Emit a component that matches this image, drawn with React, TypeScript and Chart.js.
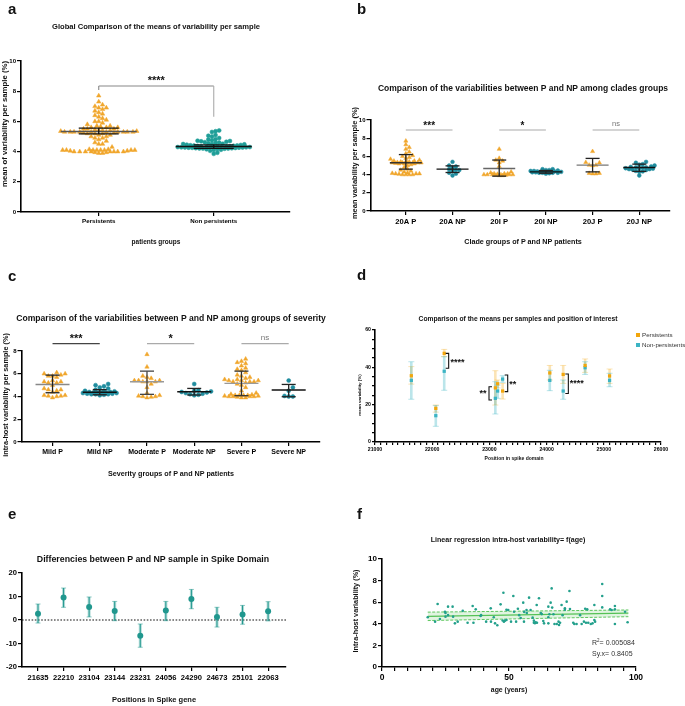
import React, { useEffect, useRef } from "react";
import { Chart, registerables } from "chart.js";
Chart.register(...registerables);

const W = 685;
const H = 706;
const FONT = "'Liberation Sans', Arial, Helvetica, sans-serif";
const ORANGE = "#f0a62c";
const TEAL_A = "#1f9e98";
const TEAL_B = "#1f8c9e";
const TEAL_D = "#3cb4c4";
const ORANGE_D = "#f2a60c";
const TEAL_E = "#20978e";
const TEAL_F = "#23a08c";
const GREEN_F = "#4cbf4c";

// ---------------- Panel a ----------------
const aCategories = ["Persistents", "Non persistents"];
const aPersistents = [
  4.0, 4.1, 4.1, 4.1, 4.0, 3.9, 4.1, 3.95, 4.0, 4.0, 4.05, 4.1, 4.1, 4.15, 4.15, 3.9, 4.0, 4.1, 4.0, 4.0, 3.95, 4.05, 4.0, 4.1,
  4.3, 4.5, 4.5, 4.6, 4.7, 4.8, 4.9, 4.9, 5.0, 5.0, 5.1, 5.1, 5.2, 5.2,
  5.25, 5.3, 5.3, 5.3, 5.3, 5.3, 5.3, 5.35, 5.4, 5.4, 5.4, 5.45, 5.5, 5.5, 5.5, 5.6, 5.6, 5.6, 5.65, 5.7, 5.7, 5.3, 5.2, 5.3, 5.35, 5.25, 5.3, 5.3,
  5.8, 5.9, 6.0, 6.0, 6.1, 6.2, 6.3, 6.4, 6.5, 6.6, 6.7, 6.8, 6.9, 6.9, 7.0, 7.1, 7.3, 7.7,
];
const aNonPersistents = [
  4.22, 4.25, 4.28, 4.3, 4.32, 4.27, 4.24, 4.3, 4.35, 4.33, 4.36, 4.29, 4.26, 4.23, 4.27, 4.2, 4.18, 4.21, 4.19, 4.31, 4.34, 4.28,
  4.38, 4.37, 4.4, 4.42, 4.41, 4.44, 4.46, 4.48, 4.5, 4.52, 4.5, 4.55, 4.58, 4.6, 4.62, 4.65, 4.68, 4.7, 4.72, 4.75, 4.8, 4.82,
  4.9, 5.0, 5.05, 5.1, 5.3, 5.35, 5.4, 4.1, 4.12, 4.15, 4.05, 3.92, 3.85, 4.2, 4.3, 4.26,
];
const aMeans = [5.33, 4.34];
const aErrLow = [5.17, 4.22];
const aErrHigh = [5.55, 4.45];
const aYTicks = [0, 2, 4, 6, 8, 10];
const aSignif = "****";

// ---------------- Panel b ----------------
const bCategories = ["20A P", "20A NP", "20I P", "20I NP", "20J P", "20J NP"];
const b20AP = [
  4.0, 4.0, 4.05, 4.1, 4.1, 4.0, 4.1, 4.15, 4.2, 4.0, 4.3, 4.4, 4.5, 4.6, 4.8, 5.0, 5.1, 5.2, 5.2, 5.3, 5.3, 5.3, 5.3, 5.3,
  5.35, 5.4, 5.4, 5.4, 5.5, 5.5, 5.6, 5.7, 5.8, 5.9, 6.0, 6.1, 6.3, 6.5, 6.8, 7.0, 7.3, 7.7, 5.25, 5.3, 5.2,
];
const b20ANP = [3.9, 4.1, 4.2, 4.4, 4.5, 4.5, 4.6, 4.8, 4.9, 5.0, 5.4];
const b20IP = [3.9, 3.9, 3.95, 4.0, 4.0, 4.0, 4.0, 4.05, 4.1, 4.1, 4.1, 4.0, 4.2, 4.0, 4.3, 4.9, 5.3, 5.5, 5.6, 5.8, 6.8, 3.95];
const b20INP = [4.1, 4.15, 4.2, 4.2, 4.2, 4.25, 4.25, 4.3, 4.3, 4.3, 4.3, 4.3, 4.35, 4.35, 4.4, 4.4, 4.45, 4.5, 4.5, 4.6, 4.6, 4.2];
const b20JP = [4.1, 4.1, 4.15, 4.15, 5.0, 5.05, 5.05, 5.35, 5.3, 6.55];
const b20JNP = [3.9, 4.3, 4.35, 4.4, 4.5, 4.55, 4.6, 4.6, 4.7, 4.7, 4.75, 4.8, 4.8, 4.85, 4.9, 5.0, 5.1, 5.15, 5.3, 5.4, 4.65];
const bMeans = [5.3, 4.6, 4.67, 4.3, 5.04, 4.78];
const bSdLow = [4.6, 4.23, 3.83, 4.15, 4.3, 4.35];
const bSdHigh = [6.2, 4.96, 5.6, 4.45, 5.78, 5.15];
const bSignif = ["***", "*", "ns"];
const bYTicks = [0, 2, 4, 6, 8, 10];

// ---------------- Panel c ----------------
const cCategories = ["Mild P", "Mild NP", "Moderate P", "Moderate NP", "Severe P", "Severe NP"];
const cMildP = [3.9, 4.0, 4.05, 4.05, 4.1, 4.1, 4.4, 4.5, 4.6, 4.6, 4.7, 5.0, 5.2, 5.2, 5.3, 5.3, 5.4, 5.7, 5.8, 5.8, 5.9, 6.0, 6.0, 6.1];
const cMildNP = [4.1, 4.15, 4.2, 4.2, 4.2, 4.25, 4.25, 4.3, 4.3, 4.3, 4.3, 4.35, 4.35, 4.4, 4.4, 4.4, 4.45, 4.5, 4.5, 4.6, 4.7, 4.8, 4.9, 5.0, 5.1];
const cModerateP = [3.9, 3.95, 4.0, 4.0, 4.05, 4.1, 4.3, 4.8, 5.1, 5.3, 5.3, 5.3, 5.4, 5.4, 5.4, 5.6, 5.7, 5.8, 6.6, 7.7];
const cModerateNP = [4.1, 4.15, 4.2, 4.25, 4.3, 4.35, 4.4, 4.45, 4.5, 4.55, 5.1];
const cSevereP = [
  3.9, 3.9, 3.95, 4.0, 4.0, 4.0, 4.0, 4.05, 4.05, 4.1, 4.1, 4.1, 4.1, 4.15, 4.2, 4.3, 4.5, 4.8, 5.0, 5.1, 5.2, 5.3, 5.3, 5.3,
  5.4, 5.4, 5.4, 5.5, 5.5, 5.6, 5.7, 5.8, 5.9, 6.1, 6.3, 6.4, 6.7, 6.9, 7.0, 7.1, 7.3, 6.5,
];
const cSevereNP = [4.0, 4.0, 4.05, 4.5, 4.8, 5.4];
const cMeans = [5.06, 4.37, 5.3, 4.42, 5.15, 4.57];
const cSdLow = [4.33, 4.15, 4.19, 4.13, 4.07, 3.98];
const cSdHigh = [5.88, 4.6, 6.23, 4.71, 6.23, 5.06];
const cSignif = ["***", "*", "ns"];
const cYTicks = [0, 2, 4, 6, 8];

// ---------------- Panel d ----------------
const dPositions = [21635, 22063, 22210, 23104, 23144, 23231, 24056, 24290, 24673, 25101];
const dPersMean = [35.5, 18, 47.5, 29, 31.2, 27.3, 37, 36.2, 41, 35.4];
const dPersLow = [31, 16, 45.7, 19.8, 29, 23, 33.2, 31.4, 37.3, 31.4];
const dPersHigh = [40.4, 19.8, 49.6, 38.2, 33.2, 31.4, 41, 41, 44.5, 39.1];
const dNonMean = [33, 14.1, 37.9, 23.4, 27.3, 33.7, 33, 27.3, 39.8, 33];
const dNonLow = [22.9, 8.4, 27.7, 15, 23.4, 32, 27.5, 22.9, 36.2, 29.6];
const dNonHigh = [43, 19.5, 45.7, 32.3, 30.5, 35.5, 38.4, 33.2, 43, 36.8];
const dLegend = ["Persistents", "Non-persistents"];

// ---------------- Panel e ----------------
const ePositions = ["21635", "22210", "23104", "23144", "23231", "24056", "24290", "24673", "25101", "22063"];
const eDiff = [2.7, 9.6, 5.5, 3.8, -6.7, 4.0, 8.9, 1.3, 2.3, 3.7];
const eLow = [-1.3, 5.4, 1.3, -0.3, -11.6, -0.3, 4.8, -3.0, -1.8, -0.4];
const eHigh = [6.8, 13.6, 9.8, 7.9, -1.7, 7.9, 13.0, 5.4, 6.2, 7.8];
const eYTicks = [-20, -10, 0, 10, 20];

// ---------------- Panel f ----------------
const fAge = [
  18, 20.9, 21.9, 22.8, 24.8, 25, 26, 27.8, 28, 28.7, 29.8, 31.8, 33.7, 35.7, 36, 36.9, 38.8, 39, 41, 42.8, 42.9, 44.5, 45.4,
  46.7, 47.8, 48.4, 49, 49.7, 50.8, 51.7, 52, 52.8, 54, 54.6, 55.6, 55.9, 56.9, 57.9, 58.5, 59.3, 59.8, 59.8, 60.9, 61.8, 62.9,
  63.5, 63.8, 65.5, 65.5, 65.9, 66.4, 66.8, 67.5, 67.9, 68.8, 69.7, 70.1, 70.7, 71.1, 72, 72.7, 73.8, 74, 75.3, 75.7, 76.6, 78,
  78.6, 79.5, 80.3, 80.8, 81.2, 82.2, 82.9, 83.6, 83.6, 83.9, 86.7, 86.7, 86.7, 89.8, 90.4, 91.7, 91.7, 91.7, 95.7, 96.7,
  60.2, 60.5, 61, 69.5, 65.5, 56, 57, 53.5, 48, 47.5, 49, 44, 26, 25, 62.5, 72, 67, 80,
];
const fVar = [
  4.6, 4.2, 5.83, 4.44, 5.12, 4.66, 5.59, 5.59, 4.66, 4.04, 4.2, 5.2, 4.1, 5.65, 4.1, 5.34, 4.72, 4.8, 4.2, 5.43, 4.2, 4.04, 3.86,
  5.8, 6.88, 4.29, 4.35, 5.28, 4.2, 6.57, 5.12, 4.2, 4.8, 4.54, 5.96, 4.2, 5.28, 6.42, 5.28, 4.57, 4.29, 4.1, 5.74, 6.36, 4.9,
  4.26, 4.04, 5.59, 4.04, 4.88, 5.96, 7.28, 4.88, 3.98, 3.98, 3.89, 4.1, 5.74, 4.8, 5.43, 6.05, 7.04, 5.37, 4.1, 3.98, 3.98, 4.8,
  3.98, 4.2, 4.1, 5.34, 4.1, 3.98, 4.04, 5.74, 4.35, 4.2, 7.69, 6.57, 5.52, 5.34, 5.28, 5.65, 5.34, 3.98, 5.12, 4.14,
  4.05, 4.15, 4.1, 4.2, 4.6, 5.1, 5.0, 5.4, 4.2, 4.3, 5.3, 4.6, 4.8, 5.0, 5.0, 5.3, 5.5, 5.4,
];
const fFitAge = [18, 97];
const fFitVar = [4.68, 4.98];
const fUpperVar = [5.08, 5.28];
const fLowerVar = [4.3, 4.66];
const fStats = ["0.005084", "0.8405"];

// ---------------- layout ----------------
type Box = { left: number; top: number; right: number; bottom: number };
const A_BOX: Box = { left: 21, top: 61, right: 290, bottom: 212 };
const B_BOX: Box = { left: 370.5, top: 120, right: 670, bottom: 211 };
const C_BOX: Box = { left: 21.5, top: 351, right: 320, bottom: 442 };
const D_BOX: Box = { left: 375, top: 330, right: 661, bottom: 442 };
const E_BOX: Box = { left: 22, top: 573, right: 286, bottom: 667 };
const F_BOX: Box = { left: 382, top: 559, right: 636, bottom: 667 };

function layoutFor(box: Box, yFit: number, xFit: number) {
  return {
    padding: { left: box.left - yFit, top: box.top, right: W - box.right, bottom: H - box.bottom - xFit },
  };
}

function axis(o: {
  min: number;
  max: number;
  tickValues: number[];
  label: (v: number) => string;
  size: number;
  fit: number;
  horizontal: boolean;
  pad?: number;
  tickLen?: number;
  weight?: string;
}) {
  return {
    type: "linear",
    min: o.min,
    max: o.max,
    border: { display: true, color: "#000", width: 1.6 },
    grid: { display: true, drawOnChartArea: false, drawTicks: true, tickLength: o.tickLen ?? 4, color: "#000", lineWidth: 1.2 },
    ticks: {
      autoSkip: false,
      maxRotation: 0,
      minRotation: 0,
      color: "#000",
      padding: o.pad ?? 2,
      font: { family: FONT, size: o.size, weight: o.weight ?? "bold" },
      callback: (v: any) => o.label(Number(v)),
    },
    afterBuildTicks: (s: any) => {
      s.ticks = o.tickValues.map((v) => ({ value: v }));
    },
    afterFit: (s: any) => {
      if (o.horizontal) s.height = o.fit;
      else s.width = o.fit;
    },
  };
}

function range(a: number, b: number, step: number) {
  const out: number[] = [];
  for (let v = a; v <= b + 1e-9; v += step) out.push(Math.round(v * 1000) / 1000);
  return out;
}

// deterministic beeswarm: horizontal offsets computed from the values only,
// limited to a maximum half-width (points overlap when the row is full)
function swarm(values: number[], center: number, pxPerX: number, pxPerY: number, diam: number, maxHalf: number) {
  const order = values.map((v, i) => ({ v, i })).sort((p, q) => p.v - q.v);
  const placed: { x: number; y: number }[] = [];
  const out: { x: number; y: number }[] = new Array(values.length);
  const step = diam * 0.5;
  const nMax = Math.floor(maxHalf / step) * 2;
  for (const { v, i } of order) {
    const y = v * pxPerY;
    let best = 0;
    let bestScore = -1;
    for (let n = 0; n <= nMax; n++) {
      const cand = n === 0 ? 0 : (n % 2 === 1 ? 1 : -1) * Math.ceil(n / 2) * step;
      let minD = Infinity;
      for (const p of placed) {
        const d = Math.hypot(p.x - cand, p.y - y);
        if (d < minD) minD = d;
      }
      if (minD >= diam) {
        best = cand;
        bestScore = Infinity;
        break;
      }
      if (minD > bestScore + 0.01) {
        bestScore = minD;
        best = cand;
      }
    }
    placed.push({ x: best, y });
    out[i] = { x: center + best / pxPerX, y: v };
  }
  return out;
}

function pxPer(box: Box, min: number, max: number, horizontal: boolean) {
  return horizontal ? (box.right - box.left) / (max - min) : (box.bottom - box.top) / (max - min);
}

function drawLine(ctx: CanvasRenderingContext2D, x1: number, y1: number, x2: number, y2: number, color: string, lw: number) {
  ctx.save();
  ctx.strokeStyle = color;
  ctx.lineWidth = lw;
  ctx.beginPath();
  ctx.moveTo(x1, y1);
  ctx.lineTo(x2, y2);
  ctx.stroke();
  ctx.restore();
}

function drawText(ctx: CanvasRenderingContext2D, t: string, x: number, y: number, size: number, color: string, weight: string, align: CanvasTextAlign) {
  ctx.save();
  ctx.fillStyle = color;
  ctx.font = `${weight} ${size}px ${FONT}`;
  ctx.textAlign = align;
  ctx.textBaseline = "middle";
  ctx.fillText(t, x, y);
  ctx.restore();
}

// summary (mean + error bar) drawer for dot plots
function summaryPlugin(
  id: string,
  means: number[],
  lows: number[],
  highs: number[],
  meanHalf: number,
  capHalf: number,
  meanColors: string[],
  barColors: string[],
  extra: (chart: any) => void
) {
  return {
    id,
    afterDatasetsDraw(chart: any) {
      const { ctx, scales } = chart;
      const xs = scales.x;
      const ys = scales.y;
      means.forEach((m, i) => {
        const cx = xs.getPixelForValue(i);
        const ym = ys.getPixelForValue(m);
        const yl = ys.getPixelForValue(lows[i]);
        const yh = ys.getPixelForValue(highs[i]);
        drawLine(ctx, cx - meanHalf, ym, cx + meanHalf, ym, meanColors[i], 1.4);
        drawLine(ctx, cx, yl, cx, yh, barColors[i], 1.3);
        drawLine(ctx, cx - capHalf, yl, cx + capHalf, yl, barColors[i], 1.3);
        drawLine(ctx, cx - capHalf, yh, cx + capHalf, yh, barColors[i], 1.3);
      });
      extra(chart);
    },
  };
}

// ---------------- chart configs ----------------
const A_XMIN = -0.676, A_XMAX = 1.663;
function makeA() {
  const ppx = pxPer(A_BOX, A_XMIN, A_XMAX, true);
  const ppy = pxPer(A_BOX, 0, 10, false);
  return {
    type: "scatter",
    data: {
      datasets: [
        { data: swarm(aPersistents, 0, ppx, ppy, 3.8, 38), pointStyle: "triangle", pointRadius: 2.6, backgroundColor: ORANGE, borderColor: ORANGE, borderWidth: 0.5 },
        { data: swarm(aNonPersistents, 1, ppx, ppy, 3.6, 37), pointStyle: "circle", pointRadius: 2, backgroundColor: TEAL_A, borderColor: TEAL_A, borderWidth: 0.5 },
      ],
    },
    options: {
      responsive: false,
      animation: false,
      events: [],
      layout: layoutFor(A_BOX, 18, 14),
      plugins: { legend: { display: false }, tooltip: { enabled: false } },
      scales: {
        x: axis({ min: A_XMIN, max: A_XMAX, tickValues: [0, 1], label: (v) => aCategories[Math.round(v)] ?? "", size: 6.2, fit: 14, horizontal: true }),
        y: axis({ min: 0, max: 10, tickValues: aYTicks, label: (v) => String(v), size: 6, fit: 18, horizontal: false, pad: 1 }),
      },
    },
    plugins: [
      summaryPlugin("sumA", aMeans, aErrLow, aErrHigh, 38, 20, ["#555", "#111"], ["#111", "#111"], (chart: any) => {
        const { ctx, scales } = chart;
        const x0 = scales.x.getPixelForValue(0);
        const x1 = scales.x.getPixelForValue(1);
        const yTop = scales.y.getPixelForValue(8.34);
        drawLine(ctx, x0, scales.y.getPixelForValue(8.08), x0, yTop, "#888", 1.1);
        drawLine(ctx, x0, yTop, x1, yTop, "#888", 1.1);
        drawLine(ctx, x1, yTop, x1, scales.y.getPixelForValue(6.3), "#aaa", 1.1);
        drawText(ctx, aSignif, (x0 + x1) / 2, yTop - 5, 11, "#111", "bold", "center");
      }),
    ],
  };
}

const B_XMIN = -0.757, B_XMAX = 5.658;
function makeB() {
  const ppx = pxPer(B_BOX, B_XMIN, B_XMAX, true);
  const ppy = pxPer(B_BOX, 0, 10, false);
  const groups = [b20AP, b20ANP, b20IP, b20INP, b20JP, b20JNP];
  return {
    type: "scatter",
    data: {
      datasets: groups.map((g, i) => {
        const isP = i % 2 === 0;
        return {
          data: swarm(g, i, ppx, ppy, 3.4, 16),
          pointStyle: isP ? "triangle" : "circle",
          pointRadius: isP ? 2.4 : 1.9,
          backgroundColor: isP ? ORANGE : TEAL_B,
          borderColor: isP ? ORANGE : TEAL_B,
          borderWidth: 0.5,
        };
      }),
    },
    options: {
      responsive: false,
      animation: false,
      events: [],
      layout: layoutFor(B_BOX, 20, 14),
      plugins: { legend: { display: false }, tooltip: { enabled: false } },
      scales: {
        x: axis({ min: B_XMIN, max: B_XMAX, tickValues: [0, 1, 2, 3, 4, 5], label: (v) => bCategories[Math.round(v)] ?? "", size: 7.6, fit: 14, horizontal: true }),
        y: axis({ min: 0, max: 10, tickValues: bYTicks, label: (v) => String(v), size: 6, fit: 20, horizontal: false, pad: 1 }),
      },
    },
    plugins: [
      summaryPlugin("sumB", bMeans, bSdLow, bSdHigh, 16, 7, ["#333", "#111", "#666", "#111", "#777", "#111"], ["#222", "#222", "#222", "#222", "#222", "#222"], (chart: any) => {
        const { ctx, scales } = chart;
        const yl = scales.y.getPixelForValue(8.9);
        bSignif.forEach((s, k) => {
          const x0 = scales.x.getPixelForValue(2 * k);
          const x1 = scales.x.getPixelForValue(2 * k + 1);
          drawLine(ctx, x0, yl, x1, yl, "#aaa", 1.1);
          if (s === "ns") drawText(ctx, s, (x0 + x1) / 2, yl - 6, 7.5, "#777", "normal", "center");
          else drawText(ctx, s, (x0 + x1) / 2, yl - 4, 10, "#111", "bold", "center");
        });
      }),
    ],
  };
}

const C_XMIN = -0.657, C_XMAX = 5.663;
function makeC() {
  const ppx = pxPer(C_BOX, C_XMIN, C_XMAX, true);
  const ppy = pxPer(C_BOX, 0, 8, false);
  const groups = [cMildP, cMildNP, cModerateP, cModerateNP, cSevereP, cSevereNP];
  return {
    type: "scatter",
    data: {
      datasets: groups.map((g, i) => {
        const isP = i % 2 === 0;
        return {
          data: swarm(g, i, ppx, ppy, 4.2, 17),
          pointStyle: isP ? "triangle" : "circle",
          pointRadius: isP ? 2.5 : 2,
          backgroundColor: isP ? ORANGE : TEAL_B,
          borderColor: isP ? ORANGE : TEAL_B,
          borderWidth: 0.5,
        };
      }),
    },
    options: {
      responsive: false,
      animation: false,
      events: [],
      layout: layoutFor(C_BOX, 18, 14),
      plugins: { legend: { display: false }, tooltip: { enabled: false } },
      scales: {
        x: axis({ min: C_XMIN, max: C_XMAX, tickValues: [0, 1, 2, 3, 4, 5], label: (v) => cCategories[Math.round(v)] ?? "", size: 7, fit: 14, horizontal: true }),
        y: axis({ min: 0, max: 8, tickValues: cYTicks, label: (v) => String(v), size: 6, fit: 18, horizontal: false, pad: 1 }),
      },
    },
    plugins: [
      summaryPlugin("sumC", cMeans, cSdLow, cSdHigh, 17, 7, ["#888", "#111", "#999", "#111", "#999", "#111"], ["#222", "#222", "#444", "#222", "#333", "#222"], (chart: any) => {
        const { ctx, scales } = chart;
        const yl = scales.y.getPixelForValue(8.65);
        cSignif.forEach((s, k) => {
          const x0 = scales.x.getPixelForValue(2 * k);
          const x1 = scales.x.getPixelForValue(2 * k + 1);
          drawLine(ctx, x0, yl, x1, yl, k === 0 ? "#444" : "#aaa", 1.1);
          if (s === "ns") drawText(ctx, s, (x0 + x1) / 2, yl - 6, 8, "#777", "normal", "center");
          else drawText(ctx, s, (x0 + x1) / 2, yl - 5, 11, "#111", "bold", "center");
        });
      }),
    ],
  };
}

function makeD() {
  const errPlugin = {
    id: "errD",
    beforeDatasetsDraw(chart: any) {
      const { ctx, scales } = chart;
      const draw = (means: number[], lows: number[], highs: number[], color: string) => {
        dPositions.forEach((p, i) => {
          const x = scales.x.getPixelForValue(p);
          const yl = scales.y.getPixelForValue(lows[i]);
          const yh = scales.y.getPixelForValue(highs[i]);
          drawLine(ctx, x, yl, x, yh, color, 2.6);
          drawLine(ctx, x - 3, yl, x + 3, yl, color, 1);
          drawLine(ctx, x - 3, yh, x + 3, yh, color, 1);
        });
      };
      draw(dPersMean, dPersLow, dPersHigh, "rgba(242,166,12,0.3)");
      draw(dNonMean, dNonLow, dNonHigh, "rgba(60,180,196,0.35)");
    },
    afterDatasetsDraw(chart: any) {
      const { ctx, scales } = chart;
      const X = (v: number) => scales.x.getPixelForValue(v);
      const Y = (v: number) => scales.y.getPixelForValue(v);
      const bracket = (xv: number, y1: number, y2: number, dir: number) => {
        const x = X(xv);
        ctx.save();
        ctx.strokeStyle = "#111";
        ctx.lineWidth = 1.1;
        ctx.beginPath();
        ctx.moveTo(x - 3 * dir, Y(y1));
        ctx.lineTo(x, Y(y1));
        ctx.lineTo(x, Y(y2));
        ctx.lineTo(x - 3 * dir, Y(y2));
        ctx.stroke();
        ctx.restore();
      };
      bracket(22288, 47.5, 39.5, 1);
      drawText(ctx, "****", X(22320), Y(42.7), 9, "#111", "bold", "left");
      bracket(22993, 29.6, 22.5, -1);
      drawText(ctx, "**", X(22950), Y(26), 9, "#111", "bold", "right");
      bracket(23320, 35.9, 27, 1);
      drawText(ctx, "**", X(23345), Y(30.6), 9, "#111", "bold", "left");
      bracket(24380, 36.4, 26, 1);
      drawText(ctx, "****", X(24405), Y(31.4), 9, "#111", "bold", "left");
    },
  };
  return {
    type: "scatter",
    data: {
      datasets: [
        { data: dPositions.map((p, i) => ({ x: p, y: dPersMean[i] })), pointStyle: "rect", pointRadius: 2.3, backgroundColor: ORANGE_D, borderColor: ORANGE_D, borderWidth: 0 },
        { data: dPositions.map((p, i) => ({ x: p, y: dNonMean[i] })), pointStyle: "rect", pointRadius: 2.3, backgroundColor: TEAL_D, borderColor: TEAL_D, borderWidth: 0 },
      ],
    },
    options: {
      responsive: false,
      animation: false,
      events: [],
      layout: layoutFor(D_BOX, 20, 12),
      plugins: { legend: { display: false }, tooltip: { enabled: false } },
      scales: {
        x: axis({ min: 21000, max: 26000, tickValues: range(21000, 26000, 100), label: (v) => (v % 1000 === 0 ? String(v) : ""), size: 5.2, fit: 12, horizontal: true, tickLen: 3, pad: 1 }),
        y: axis({ min: 0, max: 60, tickValues: range(0, 60, 5), label: (v) => (v % 20 === 0 ? String(v) : ""), size: 5.2, fit: 20, horizontal: false, tickLen: 3, pad: 1 }),
      },
    },
    plugins: [errPlugin],
  };
}

const E_XMIN = -0.626, E_XMAX = 9.7;
function makeE() {
  const plug = {
    id: "errE",
    beforeDatasetsDraw(chart: any) {
      const { ctx, scales, chartArea } = chart;
      const y0 = scales.y.getPixelForValue(0);
      ctx.save();
      ctx.setLineDash([1.6, 1.6]);
      ctx.strokeStyle = "#111";
      ctx.lineWidth = 1.2;
      ctx.beginPath();
      ctx.moveTo(chartArea.left, y0);
      ctx.lineTo(chartArea.right, y0);
      ctx.stroke();
      ctx.restore();
      eDiff.forEach((d, i) => {
        const x = scales.x.getPixelForValue(i);
        const yl = scales.y.getPixelForValue(eLow[i]);
        const yh = scales.y.getPixelForValue(eHigh[i]);
        drawLine(ctx, x, yl, x, yh, "rgba(32,151,142,0.35)", 3);
        drawLine(ctx, x, yl, x, yh, TEAL_E, 1);
        drawLine(ctx, x - 2.5, yl, x + 2.5, yl, "rgba(32,151,142,0.5)", 1);
        drawLine(ctx, x - 2.5, yh, x + 2.5, yh, "rgba(32,151,142,0.5)", 1);
      });
    },
  };
  return {
    type: "scatter",
    data: {
      datasets: [
        { data: eDiff.map((d, i) => ({ x: i, y: d })), pointStyle: "circle", pointRadius: 3, backgroundColor: TEAL_E, borderColor: TEAL_E, borderWidth: 0 },
      ],
    },
    options: {
      responsive: false,
      animation: false,
      events: [],
      layout: layoutFor(E_BOX, 20, 16),
      plugins: { legend: { display: false }, tooltip: { enabled: false } },
      scales: {
        x: axis({ min: E_XMIN, max: E_XMAX, tickValues: range(0, 9, 1), label: (v) => ePositions[Math.round(v)] ?? "", size: 7.6, fit: 16, horizontal: true, pad: 2 }),
        y: axis({ min: -20, max: 20, tickValues: eYTicks, label: (v) => String(v), size: 7.6, fit: 20, horizontal: false, pad: 1 }),
      },
    },
    plugins: [plug],
  };
}

function makeF() {
  return {
    type: "scatter",
    data: {
      datasets: [
        { data: fAge.map((a, i) => ({ x: a, y: fVar[i] })), pointStyle: "circle", pointRadius: 1.3, backgroundColor: TEAL_F, borderColor: TEAL_F, borderWidth: 0 },
        {
          type: "line",
          data: fFitAge.map((a, i) => ({ x: a, y: fUpperVar[i] })),
          borderColor: GREEN_F,
          borderWidth: 0.9,
          borderDash: [3, 1.5],
          pointRadius: 0,
          fill: "+1",
          backgroundColor: "rgba(120,205,120,0.22)",
        },
        { type: "line", data: fFitAge.map((a, i) => ({ x: a, y: fLowerVar[i] })), borderColor: GREEN_F, borderWidth: 0.9, borderDash: [3, 1.5], pointRadius: 0, fill: false },
        { type: "line", data: fFitAge.map((a, i) => ({ x: a, y: fFitVar[i] })), borderColor: GREEN_F, borderWidth: 1.3, pointRadius: 0, fill: false },
      ],
    },
    options: {
      responsive: false,
      animation: false,
      events: [],
      layout: layoutFor(F_BOX, 22, 16),
      plugins: { legend: { display: false }, tooltip: { enabled: false } },
      scales: {
        x: axis({ min: 0, max: 100, tickValues: range(0, 100, 5), label: (v) => (v % 50 === 0 ? String(v) : ""), size: 8.5, fit: 16, horizontal: true, pad: 2 }),
        y: axis({ min: 0, max: 10, tickValues: range(0, 10, 2), label: (v) => String(v), size: 8, fit: 22, horizontal: false, pad: 1 }),
      },
    },
  };
}

// ---------------- components ----------------
function ChartLayer({ make }: { make: () => any }) {
  const ref = useRef<HTMLCanvasElement>(null);
  useEffect(() => {
    const chart = new Chart(ref.current as HTMLCanvasElement, make());
    return () => chart.destroy();
  }, []);
  return <canvas ref={ref} width={W} height={H} style={{ position: "absolute", left: 0, top: 0, width: W, height: H }} />;
}

function T(props: { x: number; y: number; size: number; bold?: boolean; color?: string; align?: "center" | "left"; children: React.ReactNode }) {
  const { x, y, size, bold = true, color = "#111", align = "center", children } = props;
  const tx = align === "center" ? "-50%" : "0";
  return (
    <div
      style={{
        position: "absolute",
        left: x,
        top: y,
        fontFamily: FONT,
        fontSize: size,
        fontWeight: bold ? "bold" : "normal",
        color,
        lineHeight: 1,
        whiteSpace: "nowrap",
        transform: `translate(${tx}, -50%)`,
      }}
    >
      {children}
    </div>
  );
}

function RotT(props: { x: number; y: number; size: number; children: React.ReactNode }) {
  return (
    <div style={{ position: "absolute", left: props.x, top: props.y, width: 0, height: 0 }}>
      <div
        style={{
          position: "absolute",
          left: 0,
          top: 0,
          transform: "translate(-50%, -50%) rotate(-90deg)",
          fontFamily: FONT,
          fontSize: props.size,
          fontWeight: "bold",
          color: "#111",
          lineHeight: 1,
          whiteSpace: "nowrap",
        }}
      >
        {props.children}
      </div>
    </div>
  );
}

export default function App() {
  return (
    <div style={{ position: "absolute", left: 0, top: 0, width: W, height: H, background: "#fff", overflow: "hidden" }}>
      <ChartLayer make={makeA} />
      <ChartLayer make={makeB} />
      <ChartLayer make={makeC} />
      <ChartLayer make={makeD} />
      <ChartLayer make={makeE} />
      <ChartLayer make={makeF} />

      {/* panel letters */}
      <T x={8} y={8} size={15} align="left">a</T>
      <T x={357} y={8} size={15} align="left">b</T>
      <T x={8} y={275} size={15} align="left">c</T>
      <T x={357} y={274} size={15} align="left">d</T>
      <T x={8} y={513} size={15} align="left">e</T>
      <T x={357} y={513} size={15} align="left">f</T>

      {/* titles */}
      <T x={156} y={27} size={7.6}>Global Comparison of the means of variability per sample</T>
      <T x={523} y={88} size={8.5}>Comparison of the variabilities between P and NP among clades groups</T>
      <T x={171} y={318} size={8.6}>Comparison of the variabilities between P and NP among groups of severity</T>
      <T x={518} y={319} size={6.7}>Comparison of the means per samples and position of interest</T>
      <T x={153} y={559} size={8.8}>Differencies between P and NP sample in Spike Domain</T>
      <T x={508} y={541} size={7.1}>Linear regression intra-host variability= f(age)</T>

      {/* axis titles */}
      <T x={156} y={242} size={6.5}>patients groups</T>
      <RotT x={4.5} y={124} size={7.8}>mean of variability per sample (%)</RotT>
      <T x={523} y={242} size={7.2}>Clade groups of P and NP patients</T>
      <RotT x={355} y={163} size={7.5}>mean variability per sample (%)</RotT>
      <T x={171} y={474} size={7.2}>Severity groups of P and NP patients</T>
      <RotT x={6} y={395} size={7.3}>intra-host variability per sample (%)</RotT>
      <T x={514} y={458} size={5}>Position in spike domain</T>
      <RotT x={360} y={395} size={4.4}>mean variability (%)</RotT>
      <T x={154} y={700} size={7.5}>Positions in Spike gene</T>
      <T x={509} y={690} size={6.9}>age (years)</T>
      <RotT x={356} y={611} size={7.3}>Intra-host variability (%)</RotT>

      {/* legend d */}
      <div style={{ position: "absolute", left: 636, top: 333, width: 4, height: 4, background: ORANGE_D }} />
      <div style={{ position: "absolute", left: 636, top: 343, width: 4, height: 4, background: TEAL_D }} />
      <T x={642} y={335} size={6.2} bold={false} color="#333" align="left">{dLegend[0]}</T>
      <T x={642} y={345} size={6.2} bold={false} color="#333" align="left">{dLegend[1]}</T>

      {/* stats f */}
      <T x={592} y={642} size={7} bold={false} color="#333" align="left">
        R<sup style={{ fontSize: 4.5, verticalAlign: "top", lineHeight: 1 }}>2</sup>= {fStats[0]}
      </T>
      <T x={592} y={653} size={7} bold={false} color="#333" align="left">Sy.x= {fStats[1]}</T>
    </div>
  );
}
